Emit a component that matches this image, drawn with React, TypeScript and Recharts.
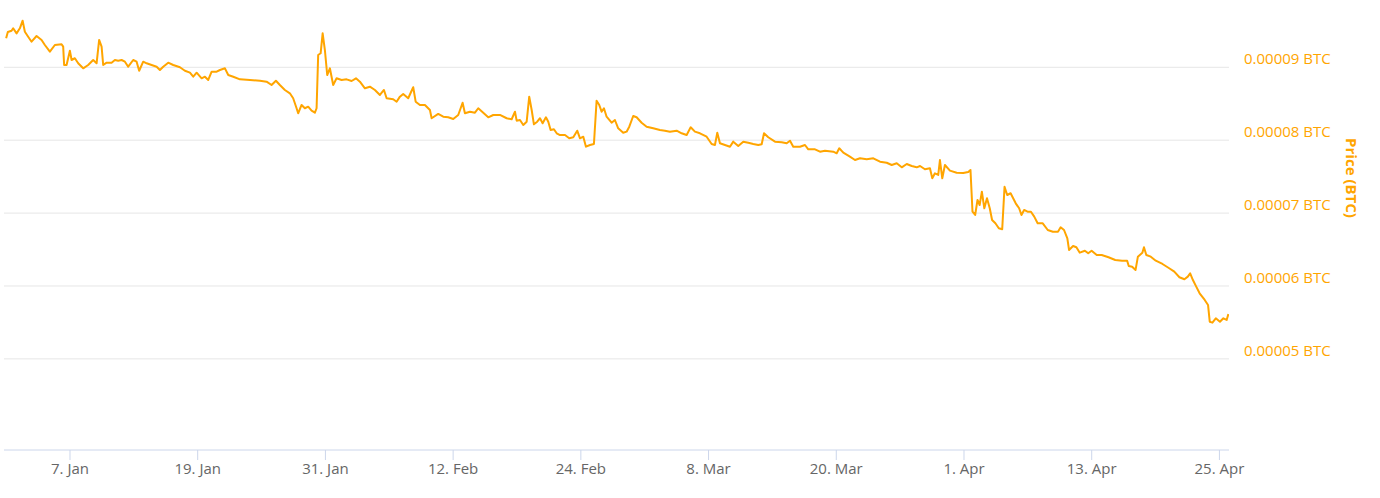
import { CartesianGrid, Line, LineChart, XAxis, YAxis } from "recharts";

// days since 1 Jan, price in units of 1e-8 BTC
const days = [
  0, 0.16, 0.51, 0.66, 0.98, 1.29, 1.55, 1.76, 2.07, 2.39, 2.86, 3.33, 3.64, 4.11, 4.58, 5.21, 5.36, 5.45, 5.68, 5.99,
  6.15, 6.46, 6.77, 7.24, 7.71, 8.18, 8.5, 8.74, 8.97, 9.12, 9.44, 9.91, 10.22, 10.53, 10.85, 11.16, 11.47, 11.94, 12.26, 12.5,
  12.88, 13.2, 13.67, 14.14, 14.45, 14.76, 15.23, 15.7, 16.33, 16.8, 17.27, 17.58, 17.9, 18.37, 18.68, 18.99, 19.31, 19.78, 20.09, 20.56,
  20.87, 21.34, 21.97, 22.91, 23.85, 24.47, 24.94, 25.35, 25.72, 26.19, 26.66, 26.97, 27.29, 27.44, 27.76, 28.07, 28.38, 28.7, 29.01, 29.17,
  29.32, 29.55, 29.74, 29.95, 30.17, 30.42, 30.73, 31.05, 31.52, 31.99, 32.46, 32.87, 33.24, 33.71, 34.18, 34.65, 35.12, 35.5, 35.75, 36.37,
  36.69, 37.0, 37.31, 37.78, 38.25, 38.48, 38.88, 39.35, 39.82, 39.98, 40.6, 41.07, 41.54, 42.01, 42.48, 42.89, 43.11, 43.58, 44.05, 44.36,
  44.83, 45.3, 45.77, 46.4, 47.03, 47.5, 47.81, 47.97, 48.28, 48.59, 48.91, 49.15, 49.38, 49.59, 49.9, 50.16, 50.41, 50.72, 50.94, 51.16,
  51.47, 51.73, 52.04, 52.51, 52.91, 53.29, 53.66, 53.92, 54.23, 54.48, 54.86, 55.23, 55.48, 55.73, 55.95, 56.17, 56.42, 56.89, 57.2, 57.51,
  57.98, 58.3, 58.55, 58.92, 59.24, 59.71, 60.18, 60.8, 61.43, 61.9, 62.37, 63.0, 63.47, 63.94, 64.32, 64.72, 65.19, 65.82, 66.29, 66.6,
  66.82, 67.07, 67.54, 68.01, 68.32, 68.79, 69.26, 69.73, 70.2, 70.67, 70.99, 71.21, 71.61, 72.24, 72.87, 73.34, 73.65, 73.96, 74.59, 75.06,
  75.37, 76.0, 76.47, 76.94, 77.72, 78.04, 78.28, 78.66, 79.28, 79.76, 80.23, 80.86, 81.48, 82.11, 82.74, 83.21, 83.68, 84.15, 84.62, 85.09,
  85.56, 85.87, 86.33, 86.8, 87.02, 87.27, 87.58, 87.74, 87.96, 88.21, 88.68, 89.31, 89.93, 90.4, 90.61, 90.8, 91.05, 91.27, 91.47, 91.68,
  91.91, 92.16, 92.42, 92.64, 92.95, 93.27, 93.59, 93.81, 94.06, 94.38, 94.86, 95.18, 95.4, 95.65, 95.97, 96.29, 96.6, 96.92, 97.4, 97.87,
  98.35, 98.83, 99.08, 99.4, 99.71, 99.87, 100.25, 100.56, 100.88, 101.36, 101.67, 101.99, 102.47, 102.94, 103.58, 104.21, 104.85, 105.33, 105.48, 105.8,
  106.12, 106.34, 106.76, 106.91, 107.13, 107.55, 108.02, 108.65, 109.28, 109.76, 110.24, 110.71, 111.03, 111.25, 111.51, 111.82, 112.14, 112.62, 112.93, 113.09,
  113.34, 113.66, 114.05, 114.37, 114.68, 114.84,
];

const prices = [
  9398, 9484, 9502, 9535, 9466, 9535, 9639, 9488, 9420, 9351, 9429, 9375, 9306, 9214, 9306, 9316, 9283, 9032, 9032, 9228,
  9100, 9124, 9055, 8986, 9032, 9100, 9055, 9375, 9283, 9032, 9063, 9063, 9100, 9091, 9100, 9077, 9008, 9100, 9077, 8953,
  9077, 9055, 9032, 9008, 8963, 9008, 9063, 9032, 9000, 8953, 8926, 8871, 8926, 8849, 8871, 8826, 8940, 8940, 8963, 8986,
  8894, 8871, 8835, 8826, 8816, 8803, 8757, 8816, 8757, 8689, 8643, 8575, 8438, 8369, 8483, 8438, 8460, 8405, 8377, 8438,
  9169, 9192, 9466, 9237, 8894, 8986, 8757, 8849, 8826, 8835, 8812, 8849, 8803, 8712, 8734, 8689, 8620, 8689, 8575, 8561,
  8528, 8597, 8634, 8575, 8726, 8528, 8483, 8483, 8414, 8301, 8360, 8322, 8314, 8291, 8346, 8514, 8369, 8391, 8377, 8438,
  8377, 8314, 8346, 8346, 8301, 8287, 8391, 8268, 8277, 8209, 8254, 8597, 8414, 8218, 8254, 8301, 8232, 8314, 8254, 8140,
  8150, 8095, 8071, 8071, 8026, 8040, 8130, 8026, 8048, 7911, 7934, 7948, 8542, 8483, 8391, 8438, 8322, 8240, 8277, 8163,
  8103, 8117, 8185, 8332, 8314, 8240, 8185, 8163, 8140, 8130, 8117, 8130, 8095, 8071, 8177, 8117, 8095, 8048, 7948, 7934,
  8103, 7958, 7934, 7911, 7980, 7921, 7980, 7966, 7948, 7934, 7944, 8095, 8040, 7980, 7971, 7958, 7993, 7911, 7911, 7934,
  7875, 7875, 7842, 7856, 7842, 7820, 7889, 7829, 7774, 7728, 7752, 7738, 7752, 7705, 7691, 7660, 7683, 7628, 7674, 7646,
  7628, 7646, 7601, 7615, 7477, 7546, 7523, 7728, 7477, 7660, 7582, 7554, 7550, 7564, 7591, 7019, 6974, 7180, 7111, 7294,
  7066, 7203, 7066, 6905, 6860, 6792, 6778, 7362, 7248, 7272, 7134, 7066, 6974, 7043, 7019, 7019, 6951, 6860, 6860, 6768,
  6745, 6745, 6805, 6768, 6654, 6494, 6549, 6531, 6457, 6484, 6449, 6484, 6425, 6425, 6394, 6357, 6347, 6347, 6275, 6265,
  6220, 6402, 6457, 6531, 6425, 6402, 6347, 6302, 6243, 6196, 6120, 6092, 6128, 6174, 6082, 5991, 5900, 5808, 5740, 5510,
  5497, 5557, 5510, 5557, 5534, 5616,
];

const tickDays = [6, 18, 30, 42, 54, 66, 78, 90, 102, 114];
const tickLabels = ["7. Jan", "19. Jan", "31. Jan", "12. Feb", "24. Feb", "8. Mar", "20. Mar", "1. Apr", "13. Apr", "25. Apr"];
const priceTicks = [5000, 6000, 7000, 8000, 9000];

const data = days.map((day, i) => ({ day, price: prices[i] }));

const FONT = "'Open Sans', sans-serif";
const ORANGE = "#FFA500";

function PriceTick({ x, y, payload }: { x?: number; y?: number; payload?: { value: number } }) {
  return (
    <text x={x} y={y} dy={-3} textAnchor="start" fill={ORANGE} fontSize={15} fontFamily={FONT}>
      {(payload!.value / 1e8).toFixed(5)} BTC
    </text>
  );
}

function AxisTitle() {
  return (
    <text
      x={1352}
      y={178}
      transform="rotate(90 1352 178)"
      textAnchor="middle"
      dominantBaseline="central"
      fill={ORANGE}
      fontSize={15}
      fontWeight="bold"
      fontFamily={FONT}
    >
      Price (BTC)
    </text>
  );
}

export default function App() {
  return (
    <div style={{ position: "absolute", left: 0, top: 0, width: 1380, height: 498, background: "#fff" }}>
      <LineChart width={1380} height={498} data={data} margin={{ top: 10, right: 0, bottom: 0, left: 4 }}>
        <CartesianGrid stroke="#e6e6e6" vertical={false} horizontalValues={priceTicks} />
        <XAxis
          dataKey="day"
          type="number"
          domain={[-0.2, 114.9]}
          ticks={tickDays}
          tickFormatter={(d: number) => tickLabels[tickDays.indexOf(d)]}
          height={48}
          axisLine={{ stroke: "#ccd6eb" }}
          tickLine={{ stroke: "#ccd6eb" }}
          tickSize={10}
          tickMargin={3}
          tick={{ fill: "#666666", fontSize: 15, fontFamily: FONT }}
          allowDataOverflow
        />
        <YAxis
          orientation="right"
          width={151}
          domain={[3750, 9786]}
          ticks={priceTicks}
          axisLine={false}
          tickLine={false}
          tickSize={0}
          tickMargin={15}
          tick={<PriceTick />}
          label={{ content: <AxisTitle /> }}
          allowDataOverflow
        />
        <Line
          dataKey="price"
          type="linear"
          stroke={ORANGE}
          strokeWidth={2}
          strokeLinejoin="round"
          dot={false}
          activeDot={false}
          isAnimationActive={false}
        />
      </LineChart>
    </div>
  );
}
